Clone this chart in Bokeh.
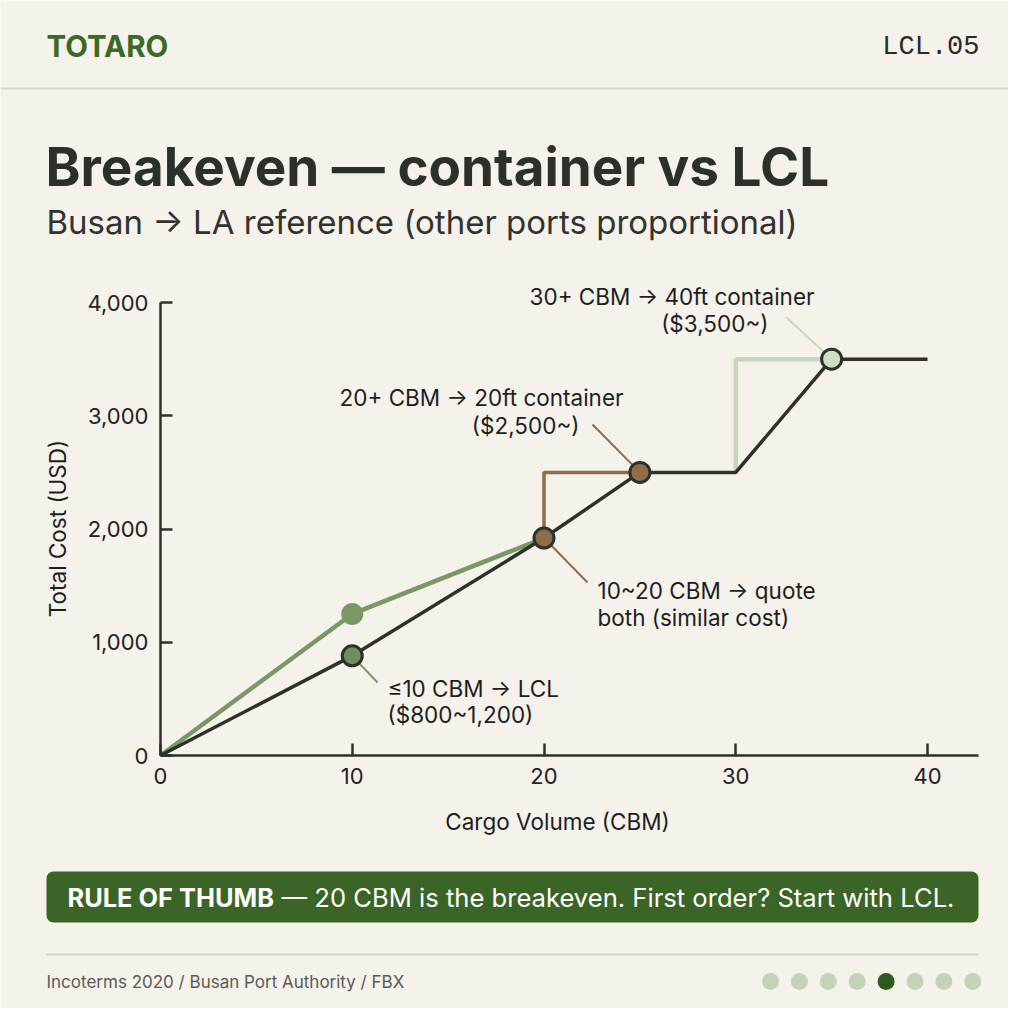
import math
from bokeh.plotting import figure
from bokeh.models import Range1d, FixedTicker, NumeralTickFormatter, Label, BoxAnnotation, Span
from bokeh.embed import file_html
from bokeh.resources import INLINE

# ---------------- data ----------------
volume_ticks = [0, 10, 20, 30, 40]
cost_ticks = [0, 1000, 2000, 3000, 4000]

best_volume = [0, 10, 20, 25, 30, 35, 40]
best_cost = [0, 880, 1920, 2500, 2500, 3500, 3500]

lcl_volume = [0, 10, 20]
lcl_cost = [0, 1250, 1920]

ft20_volume = [20, 20, 25]
ft20_cost = [1920, 2500, 2500]

ft40_volume = [30, 30, 35]
ft40_cost = [2500, 3500, 3500]

milestone_volume = [10, 20, 25, 35]
milestone_cost = [880, 1920, 2500, 3500]

lcl_point_volume = [10]
lcl_point_cost = [1250]

# ---------------- styles / layout ----------------
BG = "#F4F2EA"
DARK = "#2C312C"
GREEN = "#7A9865"
GREEN_DOT = "#6F8E5B"
BROWN = "#8E6D49"
PALE = "#C6D8BA"
PALE_DOT = "#CEDFC4"
BRAND = "#3B6928"
BOX = "#3A6527"
FONT = "Inter"

W = H = 1008
OFF = 0
X0, XPX = 160, 19.175      # reference pixel of volume 0, pixels per CBM
Y0, YPX = 755, 0.11325     # reference pixel of cost 0, pixels per USD


def dx(X):
    return (X - X0) / XPX


def dy(Y):
    return (Y0 - Y) / YPX


def sx(X):
    return X - OFF


def sy(Y):
    return H + OFF - Y


p = figure(width=W, height=H, output_backend="svg", toolbar_location=None,
           x_range=Range1d(dx(OFF), dx(OFF + W)), y_range=Range1d(dy(OFF + H), dy(OFF)),
           min_border=0, min_border_left=0, min_border_right=0, min_border_top=0, min_border_bottom=0,
           background_fill_color=BG, border_fill_color=BG, outline_line_color=None)
p.xgrid.visible = False
p.ygrid.visible = False

for ax in (p.xaxis[0], p.yaxis[0]):
    ax.fixed_location = 0
    ax.axis_line_color = DARK
    ax.axis_line_width = 2.5
    ax.major_tick_line_color = DARK
    ax.major_tick_line_width = 2.5
    ax.major_tick_in = 12
    ax.major_tick_out = 0
    ax.minor_tick_line_color = None
    ax.major_label_text_font = FONT
    ax.major_label_text_font_size = "22px"
    ax.major_label_text_color = "#222222"
    ax.axis_label = None

p.xaxis[0].bounds = (0, dx(978))
p.yaxis[0].bounds = (0, 4000)
p.xaxis[0].ticker = FixedTicker(ticks=volume_ticks)
p.yaxis[0].ticker = FixedTicker(ticks=cost_ticks)
p.yaxis[0].formatter = NumeralTickFormatter(format="0,0")
p.xaxis[0].major_label_standoff = 12
p.yaxis[0].major_label_standoff = 12

# ---------------- series ----------------
p.line(lcl_volume, lcl_cost, line_color=GREEN, line_width=4.5)
p.line(ft20_volume, ft20_cost, line_color=BROWN, line_width=3.5)
p.line(ft40_volume, ft40_cost, line_color=PALE, line_width=4.5)
p.line(best_volume, best_cost, line_color=DARK, line_width=3.5)

# leader lines (from each milestone marker to its note)
leaders = [
    (milestone_volume[0], milestone_cost[0], 377, 682, GREEN),
    (milestone_volume[1], milestone_cost[1], 587, 582, BROWN),
    (milestone_volume[2], milestone_cost[2], 592, 424, BROWN),
    (milestone_volume[3], milestone_cost[3], 786, 317, PALE),
]
for vx, vy, ex, ey, c in leaders:
    p.segment(x0=[vx], y0=[vy], x1=[dx(ex)], y1=[dy(ey)], line_color=c, line_width=2)

p.scatter(lcl_point_volume, lcl_point_cost, size=22, fill_color=GREEN, line_color=None)
p.scatter(milestone_volume, milestone_cost, size=20,
          fill_color=[GREEN_DOT, BROWN, BROWN, PALE_DOT], line_color=DARK, line_width=3)


def label(text, X, Y, size, color="#1E1E1E", align="left", style="normal", font=FONT, angle=0):
    p.add_layout(Label(x=sx(X), y=sy(Y), x_units="screen", y_units="screen", text=text,
                       text_font=font, text_font_size=f"{size}px", text_color=color,
                       text_align=align, text_baseline="middle", text_font_style=style,
                       angle=angle))


# chart notes
label("≤10 CBM → LCL", 387, 688, 22.5)
label("($800~1,200)", 387, 714, 22.5)
label("10~20 CBM → quote", 597, 590, 22.5)
label("both (similar cost)", 597, 617, 22.5)
label("20+ CBM → 20ft container", 623, 397, 22.5, align="right")
label("($2,500~)", 579, 425, 22.5, align="right")
label("30+ CBM → 40ft container", 814, 296, 22.5, align="right")
label("($3,500~)", 768, 323, 22.5, align="right")

# axis titles
label("Total Cost (USD)", 57, 528, 22.5, align="center", angle=math.pi / 2)
label("Cargo Volume (CBM)", 557, 821, 22.5, align="center")

# header
label("TOTARO", 46, 45, 29.5, color=BRAND, style="bold")
label("LCL.05", 979, 46, 27, color="#2A2A2A", align="right", font="Liberation Mono")
p.add_layout(Span(location=dy(88), dimension="width", line_color="#D8D6CE", line_width=2))

# title
label("Breakeven — container vs LCL", 45, 166, 53, color="#2B302B", style="bold")
label("Busan → LA reference (other ports proportional)", 46, 221, 33, color="#303330")

# rule of thumb box
p.add_layout(BoxAnnotation(left=sx(46), right=sx(978), top=sy(871), bottom=sy(922),
                           left_units="screen", right_units="screen", top_units="screen",
                           bottom_units="screen", fill_color=BOX, fill_alpha=1.0,
                           line_color=None, border_radius=7))
label("RULE OF THUMB", 67, 897, 25.4, color="white", style="bold")
label("— 20 CBM is the breakeven. First order? Start with LCL.", 281, 897, 25.6, color="white")

# footer
p.segment(x0=[dx(46)], y0=[dy(954)], x1=[dx(978)], y1=[dy(954)], line_color="#D3D1C8", line_width=2)
label("Incoterms 2020 / Busan Port Authority / FBX", 46, 981, 17, color="#5A5A5A")
dot_x = [dx(770 + 28.9 * i) for i in range(8)]
dot_c = ["#C3D3B5"] * 8
dot_c[4] = "#2F5A1F"
p.scatter(dot_x, [dy(981)] * 8, size=17, fill_color=dot_c, line_color=None)

open("out.html", "w").write(file_html(p, INLINE))
